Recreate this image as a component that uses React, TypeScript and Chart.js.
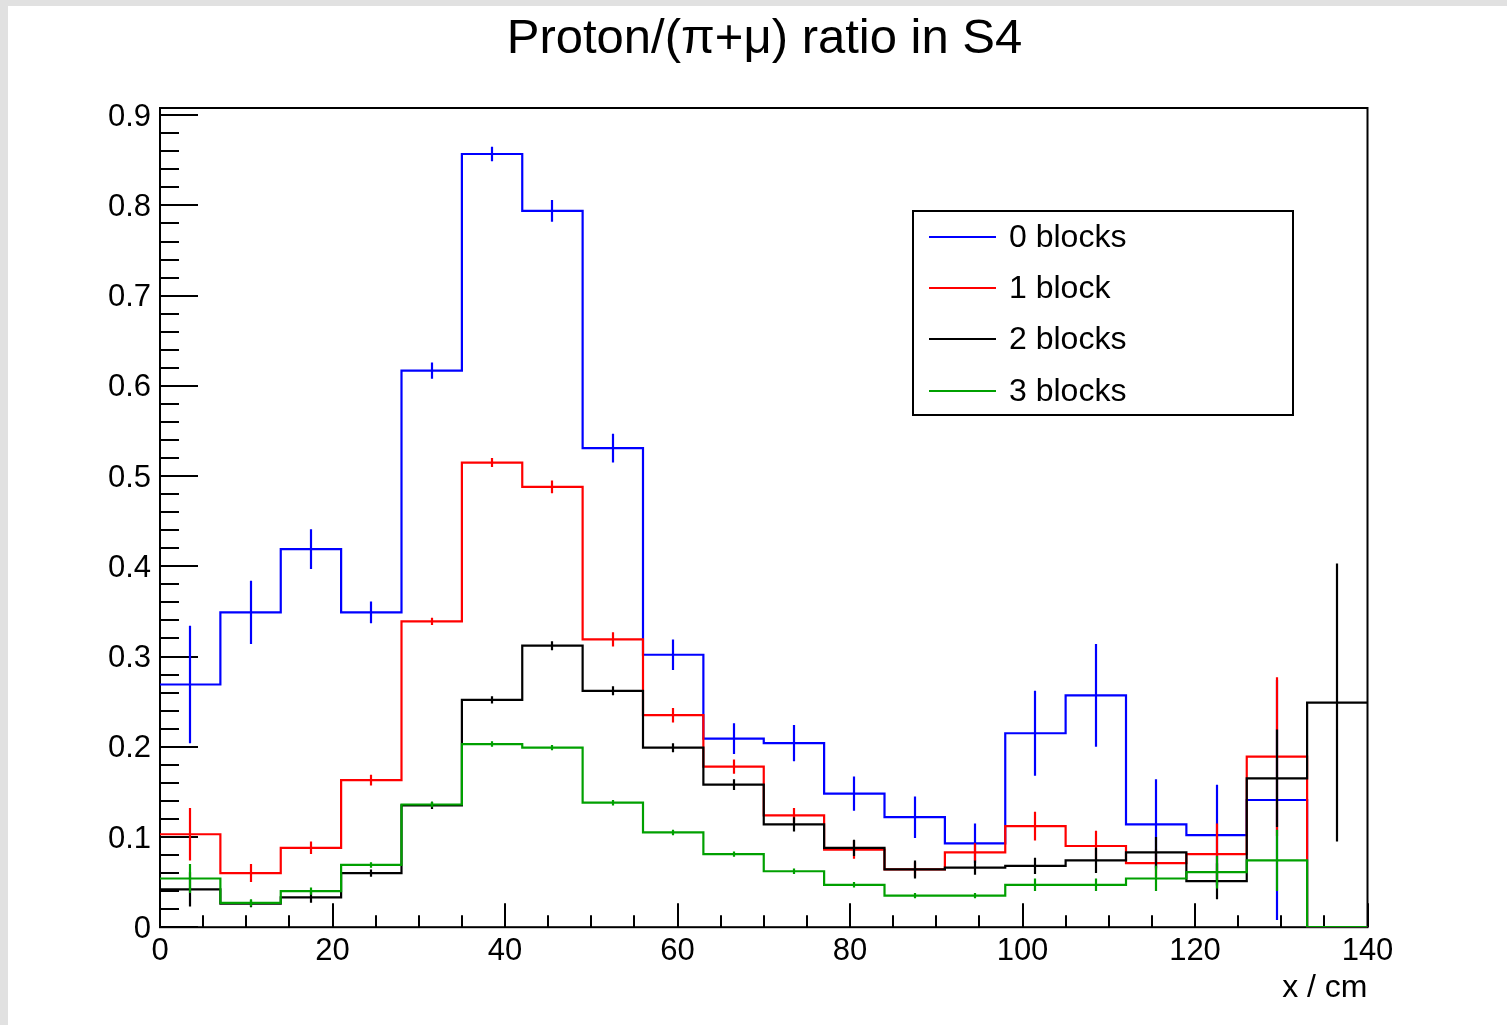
import React, { useEffect, useRef } from 'react';
import { Chart, registerables } from 'chart.js';

Chart.register(...registerables);

// ---- data ----
const binLowEdges = [0, 7, 14, 21, 28, 35, 42, 49, 56, 63, 70, 77, 84, 91, 98, 105, 112, 119, 126, 133];
const binWidth = 7;
const xMin = 0;
const xMax = 140;
const yMin = 0;
const yMax = 0.908;

const seriesLabels = ['0 blocks', '1 block', '2 blocks', '3 blocks'];
const seriesColors = ['#0000ff', '#ff0000', '#000000', '#00a000'];

const blocks0 = [0.269, 0.349, 0.419, 0.349, 0.617, 0.857, 0.794, 0.531, 0.302, 0.209, 0.204, 0.148, 0.122, 0.093, 0.215, 0.257, 0.114, 0.102, 0.141, 0];
const blocks0Err = [0.065, 0.035, 0.022, 0.012, 0.009, 0.008, 0.012, 0.016, 0.017, 0.017, 0.020, 0.019, 0.023, 0.022, 0.047, 0.057, 0.050, 0.056, 0.133, 0];
const blocks1 = [0.103, 0.060, 0.088, 0.163, 0.339, 0.515, 0.488, 0.319, 0.235, 0.178, 0.124, 0.086, 0.064, 0.083, 0.112, 0.090, 0.071, 0.081, 0.189, 0];
const blocks1Err = [0.029, 0.010, 0.007, 0.006, 0.004, 0.005, 0.007, 0.008, 0.008, 0.008, 0.008, 0.010, 0.008, 0.010, 0.016, 0.017, 0.015, 0.034, 0.088, 0];
const blocks2 = [0.042, 0.026, 0.033, 0.060, 0.135, 0.252, 0.312, 0.262, 0.199, 0.158, 0.114, 0.088, 0.064, 0.066, 0.068, 0.074, 0.083, 0.051, 0.165, 0.249];
const blocks2Err = [0.019, 0.004, 0.006, 0.004, 0.004, 0.004, 0.005, 0.005, 0.005, 0.006, 0.008, 0.009, 0.010, 0.008, 0.009, 0.014, 0.017, 0.020, 0.054, 0.154];
const blocks3 = [0.054, 0.027, 0.040, 0.069, 0.136, 0.203, 0.199, 0.138, 0.105, 0.081, 0.062, 0.047, 0.035, 0.035, 0.047, 0.047, 0.054, 0.061, 0.074, 0];
const blocks3Err = [0.016, 0.004, 0.004, 0.003, 0.003, 0.003, 0.003, 0.003, 0.003, 0.003, 0.003, 0.003, 0.003, 0.003, 0.007, 0.007, 0.014, 0.018, 0.034, 0];

const seriesValues = [blocks0, blocks1, blocks2, blocks3];
const seriesErrors = [blocks0Err, blocks1Err, blocks2Err, blocks3Err];

const titleText = 'Proton/(\u03C0+\u03BC) ratio in S4';
const xAxisTitle = 'x / cm';

const FONT = "'Liberation Sans', Arial, Helvetica, sans-serif";

// ---- plugins ----
const framePlugin = {
  id: 'rootFrame',
  beforeDatasetsDraw(chart: any) {
    const { ctx, chartArea: a, scales } = chart;
    const x = scales.x;
    const y = scales.y;
    ctx.save();
    ctx.strokeStyle = '#000';
    ctx.lineWidth = 2;
    ctx.strokeRect(a.left, a.top, a.right - a.left, a.bottom - a.top);
    ctx.beginPath();
    // y ticks: major every 0.1, minor every 0.02
    for (let i = 0; i * 0.02 <= yMax + 1e-9; i++) {
      const py = Math.round(y.getPixelForValue(i * 0.02));
      const len = i % 5 === 0 ? 38 : 19;
      ctx.moveTo(a.left, py);
      ctx.lineTo(a.left + len, py);
    }
    // x ticks: major every 20, minor every 5
    for (let v = xMin; v <= xMax + 1e-9; v += 5) {
      const px = Math.round(x.getPixelForValue(v));
      const len = v % 20 === 0 ? 24 : 12;
      ctx.moveTo(px, a.bottom);
      ctx.lineTo(px, a.bottom - len);
    }
    ctx.stroke();
    ctx.restore();
  },
};

const errorBarPlugin = {
  id: 'errorBars',
  afterDatasetDraw(chart: any, args: any) {
    const ds = chart.data.datasets[args.index];
    const vals: number[] = ds.binValues;
    const errs: number[] = ds.binErrors;
    if (!vals || !errs) return;
    const { ctx, chartArea: a, scales } = chart;
    const x = scales.x;
    const y = scales.y;
    ctx.save();
    ctx.beginPath();
    ctx.rect(a.left, a.top, a.right - a.left, a.bottom - a.top);
    ctx.clip();
    ctx.strokeStyle = ds.borderColor;
    ctx.lineWidth = 2.2;
    ctx.beginPath();
    binLowEdges.forEach((lo, i) => {
      const e = errs[i];
      if (!e) return;
      const px = Math.round(x.getPixelForValue(lo + binWidth / 2));
      ctx.moveTo(px, y.getPixelForValue(vals[i] - e));
      ctx.lineTo(px, y.getPixelForValue(vals[i] + e));
    });
    ctx.stroke();
    ctx.restore();
  },
};

const overlayPlugin = {
  id: 'rootOverlay',
  afterDraw(chart: any) {
    const { ctx } = chart;
    ctx.save();
    // title
    ctx.fillStyle = '#000';
    ctx.font = `49px ${FONT}`;
    ctx.textAlign = 'center';
    ctx.textBaseline = 'middle';
    ctx.fillText(titleText, 756.5, 33);

    // legend box
    const l = 905, t = 205, r = 1285, b = 409;
    ctx.fillStyle = '#fff';
    ctx.fillRect(l, t, r - l, b - t);
    ctx.strokeStyle = '#000';
    ctx.lineWidth = 2;
    ctx.strokeRect(l, t, r - l, b - t);
    const rowsY = [231, 282, 333, 385];
    ctx.font = `32px ${FONT}`;
    ctx.textAlign = 'left';
    chart.data.datasets.forEach((ds: any, i: number) => {
      const yy = rowsY[i];
      ctx.strokeStyle = ds.borderColor;
      ctx.lineWidth = 2;
      ctx.beginPath();
      ctx.moveTo(921, yy);
      ctx.lineTo(988, yy);
      ctx.stroke();
      ctx.fillStyle = '#000';
      ctx.fillText(ds.label, 1001, yy + 1);
    });
    ctx.restore();
  },
};

function buildDatasets() {
  return seriesLabels.map((label, i) => {
    const vals = seriesValues[i];
    const pts = binLowEdges.map((lo, j) => ({ x: lo, y: vals[j] }));
    pts.push({ x: xMax, y: vals[vals.length - 1] });
    return {
      label,
      data: pts,
      borderColor: seriesColors[i],
      backgroundColor: seriesColors[i],
      borderWidth: 2.2,
      pointRadius: 0,
      pointHoverRadius: 0,
      stepped: true,
      fill: false,
      tension: 0,
      order: seriesLabels.length - i,
      binValues: vals,
      binErrors: seriesErrors[i],
    };
  });
}

export default function App() {
  const canvasRef = useRef<HTMLCanvasElement | null>(null);

  useEffect(() => {
    const canvas = canvasRef.current;
    if (!canvas) return;
    const chart = new Chart(canvas, {
      type: 'line',
      data: { datasets: buildDatasets() as any },
      options: {
        responsive: false,
        animation: false,
        devicePixelRatio: 1,
        layout: { padding: { top: 102, right: 139.5, left: 0, bottom: 0 } },
        plugins: {
          legend: { display: false },
          title: { display: false },
          tooltip: { enabled: false },
        },
        scales: {
          x: {
            type: 'linear',
            min: xMin,
            max: xMax,
            grid: { display: false, drawTicks: false },
            border: { display: false },
            ticks: {
              stepSize: 20,
              includeBounds: false,
              maxRotation: 0,
              autoSkip: false,
              padding: 6,
              color: '#000',
              font: { family: FONT, size: 31 },
              callback: (v: any) => String(v),
            },
            title: {
              display: true,
              text: xAxisTitle,
              align: 'end',
              color: '#000',
              font: { family: FONT, size: 32 },
              padding: { top: 0, bottom: 18 },
            },
            afterFit: (s: any) => {
              s.height = 97.8;
              s.paddingLeft = 0;
              s.paddingRight = 0;
            },
          },
          y: {
            type: 'linear',
            min: yMin,
            max: yMax,
            grid: { display: false, drawTicks: false },
            border: { display: false },
            ticks: {
              stepSize: 0.1,
              includeBounds: false,
              autoSkip: false,
              padding: 9,
              labelOffset: 2,
              color: '#000',
              font: { family: FONT, size: 31 },
              callback: (v: any) => (Math.abs(v) < 1e-9 ? '0' : Number(v).toFixed(1)),
            },
            afterFit: (s: any) => {
              s.width = 152;
              s.paddingTop = 0;
              s.paddingBottom = 0;
            },
          },
        },
      } as any,
      plugins: [framePlugin, errorBarPlugin, overlayPlugin],
    });
    return () => chart.destroy();
  }, []);

  return (
    <div style={{ position: 'fixed', left: 0, top: 0, width: 1507, height: 1025, background: '#e1e1e1', overflow: 'hidden' }}>
      <div style={{ position: 'absolute', left: 8, top: 6, width: 1499, height: 1019, background: '#ffffff' }}>
        <canvas ref={canvasRef} width={1499} height={1019} style={{ display: 'block', width: 1499, height: 1019 }} />
      </div>
    </div>
  );
}
